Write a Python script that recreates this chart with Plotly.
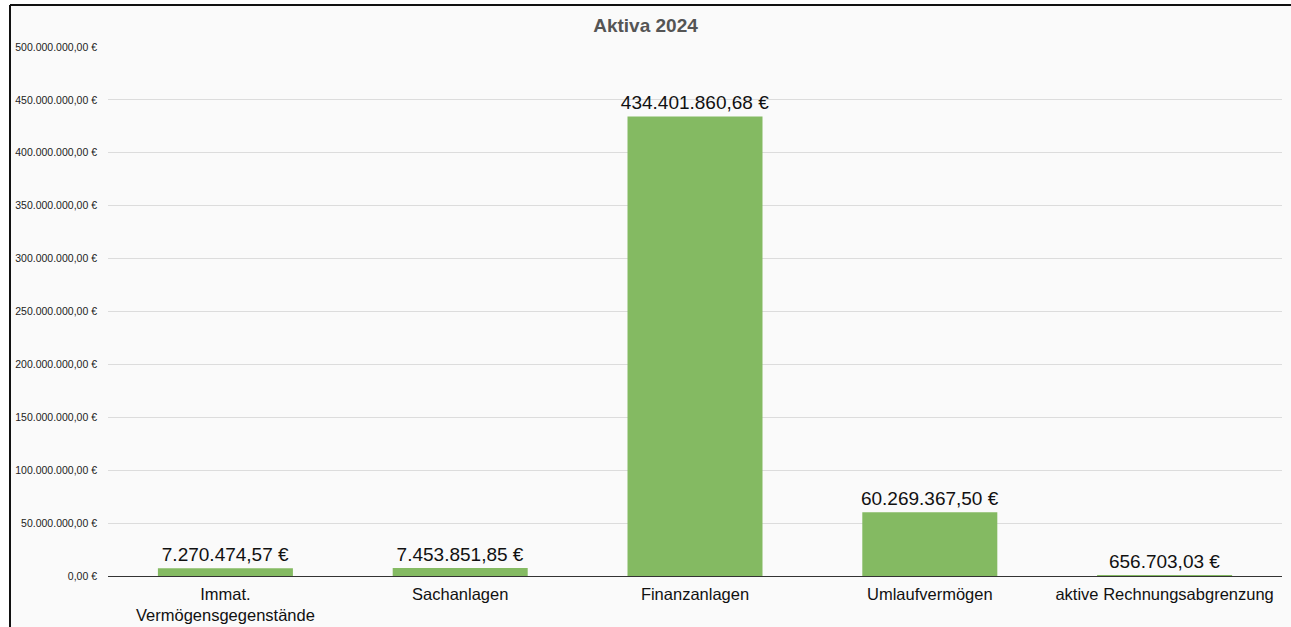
import plotly.graph_objects as go

categories = ["Immat.<br>Vermögensgegenstände", "Sachanlagen", "Finanzanlagen",
              "Umlaufvermögen", "aktive Rechnungsabgrenzung"]
values = [7270474.57, 7453851.85, 434401860.68, 60269367.50, 656703.03]
tick_values = [0, 50e6, 100e6, 150e6, 200e6, 250e6, 300e6, 350e6, 400e6, 450e6, 500e6]


def de_fmt(v):
    s = f"{v:,.2f}"
    return s.replace(",", "X").replace(".", ",").replace("X", ".") + " €"


tick_text = [de_fmt(v) for v in tick_values]
labels = [de_fmt(v) for v in values]

W, H = 1291, 627
ml, mr, mt, mb = 108, 9, 47, 51
pw, ph = W - ml - mr, H - mt - mb


def px_x(x):
    return (x - ml) / pw


def px_y(y):
    return (H - mb - y) / ph


fig = go.Figure(go.Bar(
    x=categories, y=values, text=labels, textposition="outside",
    constraintext="none",
    textfont=dict(size=19, color="#111111", family="Liberation Sans, Arial"),
    marker=dict(color="#84BA62", line=dict(width=0)),
    width=0.575, cliponaxis=False,
))

fig.update_layout(
    width=W, height=H,
    margin=dict(l=ml, r=mr, t=mt, b=mb, autoexpand=False),
    paper_bgcolor="white", plot_bgcolor="rgba(0,0,0,0)",
    font=dict(family="Liberation Sans, Arial", color="#222222"),
    title=dict(text="<b>Aktiva 2024</b>", x=0.5, xref="container", xanchor="center",
               y=1 - 25 / H, yanchor="middle",
               font=dict(size=19, color="#555555", family="Liberation Sans, Arial")),
    showlegend=False,
    bargap=0.425,
    xaxis=dict(showgrid=False, showline=True, linecolor="#333333", linewidth=1,
               ticks="", ticklabelstandoff=3, automargin=False,
               tickfont=dict(size=16.5, color="#111111")),
    yaxis=dict(range=[0, 500e6], tickvals=tick_values, ticktext=tick_text,
               showgrid=True, gridcolor="#dcdcdc", gridwidth=1, zeroline=False,
               showline=False, ticks="", ticklabelstandoff=10, automargin=False,
               tickfont=dict(size=10.5, color="#222222")),
    shapes=[
        dict(type="rect", xref="paper", yref="paper", x0=px_x(10), x1=px_x(1295),
             y0=px_y(640), y1=px_y(5), fillcolor="#fafafa",
             line=dict(width=0), layer="below"),
        dict(type="line", xref="paper", yref="paper", x0=px_x(10), x1=px_x(10),
             y0=px_y(640), y1=px_y(5), line=dict(color="#111111", width=2)),
        dict(type="line", xref="paper", yref="paper", x0=px_x(10), x1=px_x(1295),
             y0=px_y(5), y1=px_y(5), line=dict(color="#111111", width=2)),
    ],
)

fig.write_html("out.html")
